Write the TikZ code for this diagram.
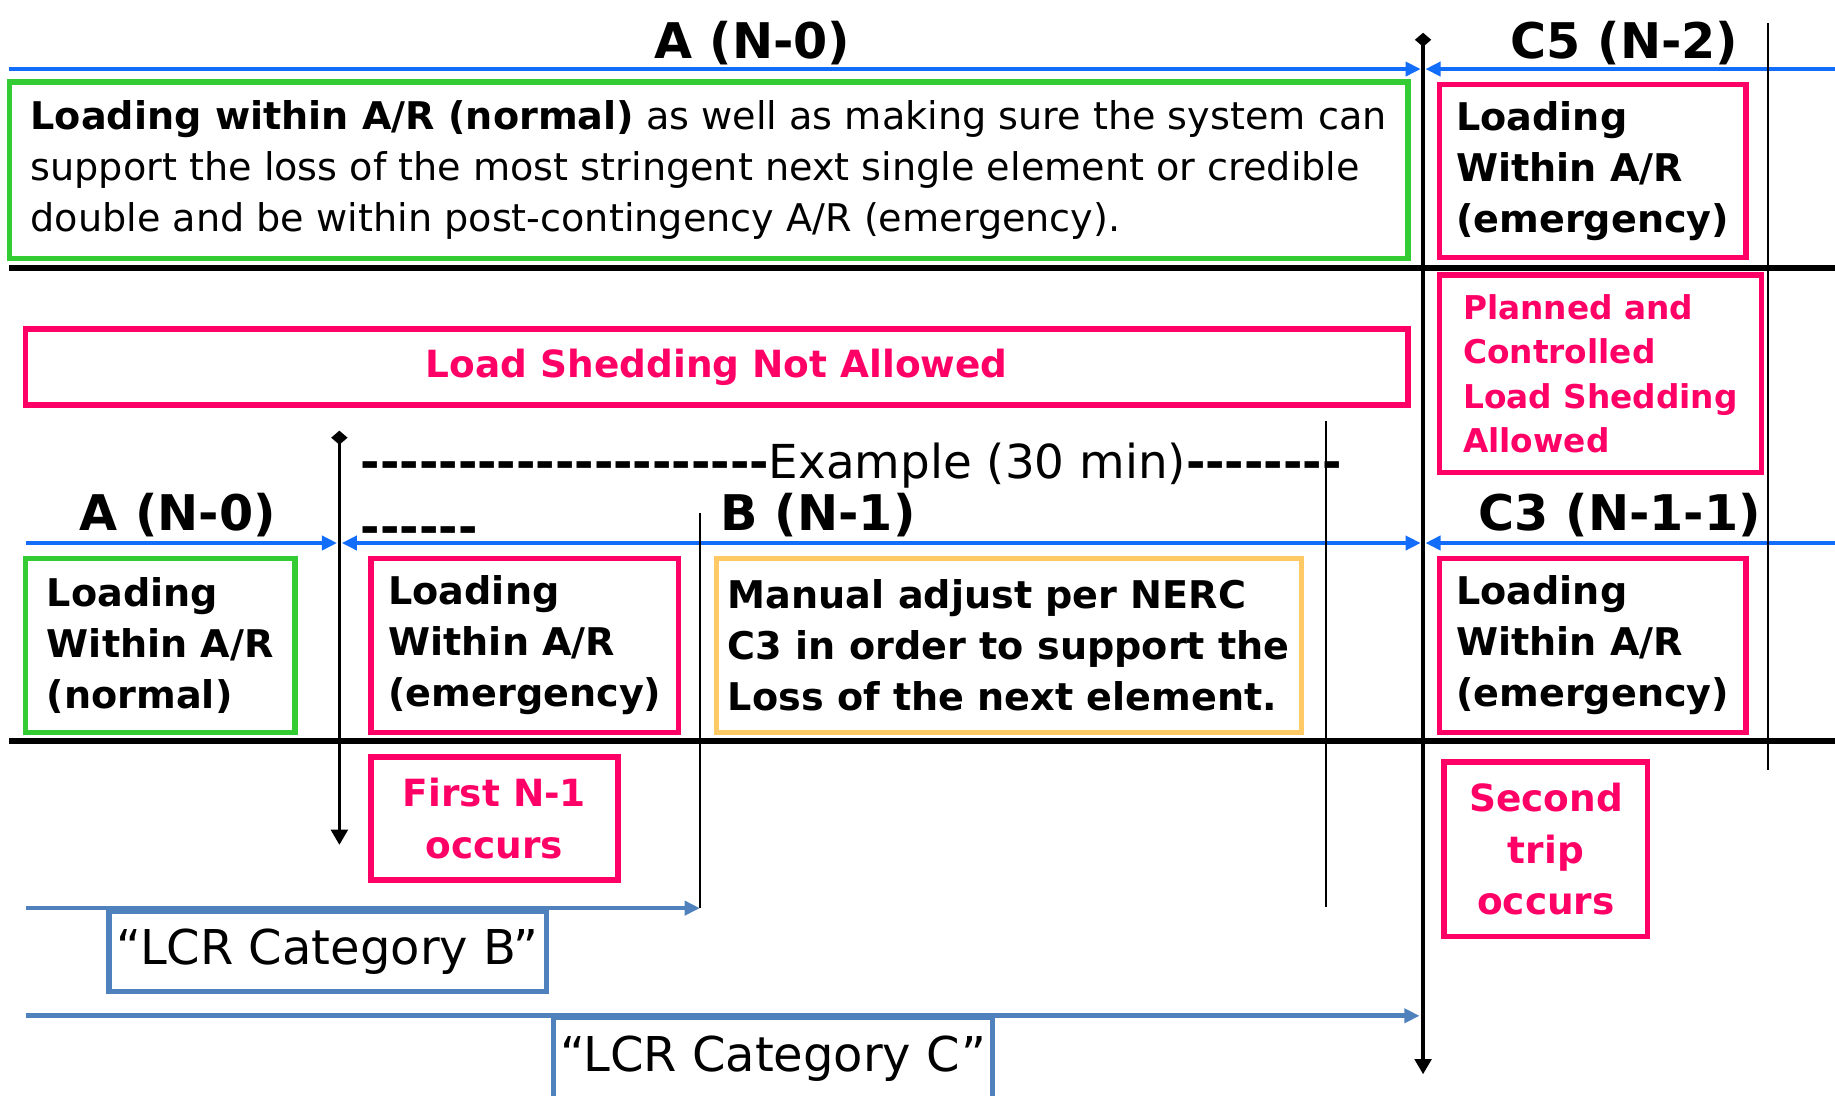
\documentclass[tikz,border=0pt]{standalone}
\usepackage{fontspec}
\setmainfont{DejaVu Sans}
\usetikzlibrary{arrows.meta,positioning}
\hyphenpenalty=10000
\definecolor{tlblue}{RGB}{18,110,250}
\definecolor{pinkred}{RGB}{255,0,102}
\definecolor{okgreen}{RGB}{51,204,51}
\definecolor{amber}{RGB}{255,201,102}
\definecolor{steel}{RGB}{79,129,189}
\newcommand\boxfont{\fontsize{16.3pt}{21.75pt}\selectfont}
\newcommand\dashrun[1]{{\bfseries\foreach \k in {1,...,#1}{-\kern0pt}}}
\tikzset{
    >={Triangle[length=6.5pt,width=6pt]},
    stagebox/.style={
           draw=#1,
           line width=2.3pt,
           inner sep=0pt,
           align=left},
    heading/.style={
           anchor=base,
           inner sep=0pt,
           font=\fontsize{21pt}{25pt}\selectfont\bfseries},
    tline/.style={
           ->,
           draw=tlblue,
           line width=1.75pt},
    catline/.style={
           ->,
           draw=steel,
           line width=2pt},
    sepline/.style={
           line width=2.6pt},
    guide/.style={
           line width=0.75pt},
    eventline/.style={
           {Diamond[length=6pt,width=7pt]}-{Triangle[length=6.5pt,width=7pt]}}
}

\begin{document}
\begin{tikzpicture}[x=0.5pt,y=-0.5pt]
          \fill[white] (0,0) rectangle (1568,936);
          \useasboundingbox (0,0) rectangle (1568,936);
          % time marks
          \coordinate (nowTop) at (1216,28);
          \coordinate (nowEnd) at (1216,918);
          \coordinate (firstTop) at (290,368);
          \coordinate (firstEnd) at (290,722);
          \coordinate (c5Top) at (1511,20);
          \coordinate (c5End) at (1511,658);
          \coordinate (exTop) at (1133,360);
          \coordinate (exEnd) at (1133,775);
          \coordinate (bTop) at (598,438);
          % headings
          \node[heading] (hA0) at (643,50) {A (N-0)};
          \node[heading] (hC5) at (1388,50) {C5 (N-2)};
          \node[heading] (hA0low) at (152,453) {A (N-0)};
          \node[heading] (hB1) at (699,453) {B (N-1)};
          \node[heading] (hC3) at (1384,453) {C3 (N-1-1)};
          \node[anchor=base west, inner sep=0pt, align=left,
                font=\fontsize{20pt}{27.5pt}\selectfont] (example) at (308,464)
                {\dashrun{21}Example (30 min)\dashrun{8}\\\dashrun{6}};
          % upper band
          \node[stagebox=okgreen, minimum width=597.5pt, minimum height=75.5pt, font=\boxfont]
                (normTop) at (605.5,145.5)
                {\textbf{Loading within A/R (normal)} as well as making sure the system can\\
                 support the loss of the most stringent next single element or credible\\
                 double and be within post-contingency A/R (emergency).};
          \node[stagebox=pinkred, minimum width=131pt, minimum height=74pt, font=\boxfont\bfseries]
                (emgTop) at (1361,146) {Loading\\Within A/R\\(emergency)};
          \node[stagebox=pinkred, minimum width=590.5pt, minimum height=32.5pt, text=pinkred,
                font=\fontsize{16pt}{20pt}\selectfont\bfseries]
                (noShed) at (612.5,313.5) {Load Shedding Not Allowed};
          \node[stagebox=pinkred, minimum width=137.5pt, minimum height=84.5pt, text=pinkred,
                font=\fontsize{14pt}{19pt}\selectfont\bfseries]
                (shed) at (1367.5,319.5) {Planned and\\Controlled\\Load Shedding\\Allowed};
          % lower band
          \node[stagebox=okgreen, minimum width=115pt, minimum height=74.5pt, font=\boxfont\bfseries]
                (normLow) at (137,551.5) {Loading\\Within A/R\\(normal)};
          \node[stagebox=pinkred, minimum width=131.5pt, minimum height=74.5pt, font=\boxfont\bfseries]
                (emgB) at (448.5,551.5) {Loading\\Within A/R\\(emergency)};
          \node[stagebox=amber, minimum width=250pt, minimum height=74.5pt, font=\boxfont\bfseries]
                (manual) at (862,551.5) {Manual adjust per NERC\\C3 in order to support the\\Loss of the next element.};
          \node[stagebox=pinkred, minimum width=131pt, minimum height=74.5pt, font=\boxfont\bfseries]
                (emgC3) at (1361,551.5) {Loading\\Within A/R\\(emergency)};
          \node[stagebox=pinkred, minimum width=105.5pt, minimum height=52.5pt, align=center, text=pinkred,
                font=\fontsize{16pt}{22.5pt}\selectfont\bfseries]
                (firstTrip) at (422.5,699.5) {First N-1\\occurs};
          \node[stagebox=pinkred, minimum width=87pt, minimum height=74.5pt, align=center, text=pinkred,
                font=\fontsize{16pt}{22pt}\selectfont\bfseries]
                (secondTrip) at (1321,725.5) {Second\\trip\\occurs};
          \node[stagebox=steel, minimum width=187pt, minimum height=34pt,
                font=\fontsize{20.5pt}{24pt}\selectfont]
                (catB) at (280,813) {“LCR Category B”};
          \node[stagebox=steel, minimum width=187.5pt, minimum height=36pt,
                font=\fontsize{20.5pt}{24pt}\selectfont]
                (catC) at (660.5,905) {“LCR Category C”};
          % time axes
          \coordinate (a0L) at (8,59);
          \coordinate (a0R) at (1214,59);
          \coordinate (c5R) at (1568,59);
          \coordinate (c5L) at (1218,59);
          \coordinate (lowL) at (22,464);
          \coordinate (lowA) at (288,464);
          \coordinate (lowB) at (292,464);
          \coordinate (lowC) at (1214,464);
          \coordinate (c3R) at (1568,464);
          \coordinate (c3L) at (1218,464);
          \coordinate (catBL) at (22,776);
          \coordinate (catBR) at (598,776);
          \coordinate (catCL) at (22,868);
          \coordinate (catCR) at (1213,868);
          \coordinate (sep1L) at (8,229);
          \coordinate (sep1R) at (1568,229);
          \coordinate (sep2L) at (8,633);
          \coordinate (sep2R) at (1568,633);
          \draw[tline] (a0L) -- (a0R);
          \draw[tline] (c5R) -- (c5L);
          \draw[tline] (lowL) -- (lowA);
          \draw[tline, <->] (lowB) -- (lowC);
          \draw[tline] (c3R) -- (c3L);
          \draw[catline] (catBL) -- (catBR);
          \draw[catline] (catCL) -- (catCR);
          \draw[sepline] (sep1L) -- (sep1R);
          \draw[sepline] (sep2L) -- (sep2R);
          \draw[guide] (c5Top) -- (c5End);
          \draw[guide] (exTop) -- (exEnd);
          \draw[guide] (bTop) -- (catBR);
          \draw[eventline, line width=2pt] (nowTop) -- (nowEnd);
          \draw[eventline, line width=1.6pt] (firstTop) -- (firstEnd);
\end{tikzpicture}
\end{document}
